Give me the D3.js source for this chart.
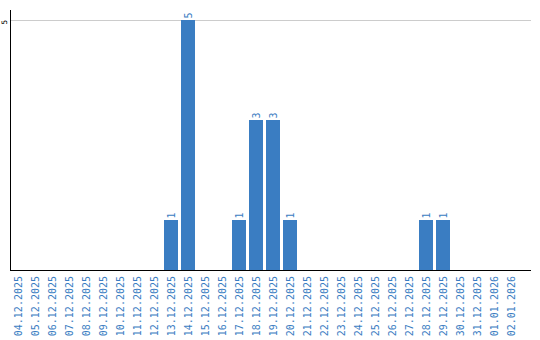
<!DOCTYPE html>
<html><head><meta charset="utf-8">
<script src="https://cdn.jsdelivr.net/npm/d3@7"></script>
<style>body{margin:0;background:#fff}svg{display:block}text{font-family:"DejaVu Sans Mono",monospace;font-size:10px}</style>
</head><body><svg id="c" width="540" height="340"></svg>
<script>
const categories = ["04.12.2025","05.12.2025","06.12.2025","07.12.2025","08.12.2025","09.12.2025","10.12.2025","11.12.2025","12.12.2025","13.12.2025","14.12.2025","15.12.2025","16.12.2025","17.12.2025","18.12.2025","19.12.2025","20.12.2025","21.12.2025","22.12.2025","23.12.2025","24.12.2025","25.12.2025","26.12.2025","27.12.2025","28.12.2025","29.12.2025","30.12.2025","31.12.2025","01.01.2026","02.01.2026"];
const values = [0,0,0,0,0,0,0,0,0,1,5,0,0,1,3,3,1,0,0,0,0,0,0,0,1,1,0,0,0,0];
const yTicks = [5];

const svg = d3.select("#c");
const color = "#3a7dc2";
const x = d3.scaleBand().domain(categories).range([11, 521]).paddingInner(3/17).paddingOuter(1.5/17).align(0);
const y = d3.scaleLinear().domain([0, 5]).range([270, 20]);

// gridlines
svg.append("g").selectAll("line").data(yTicks).join("line")
  .attr("x1", 11).attr("x2", 531).attr("y1", d => y(d) + 0.5).attr("y2", d => y(d) + 0.5)
  .attr("stroke", "#cccccc");

// y labels
svg.append("g").selectAll("text").data(yTicks).join("text")
  .attr("transform", d => `translate(4,${y(d)}) rotate(-90)`)
  .attr("text-anchor", "end").attr("dy", "0.35em").attr("fill", "#000")
  .style("font-size", "7.5px")
  .text(d => d);

// bars
const barData = values.map((v,i)=>({c:categories[i],v})).filter(d=>d.v>0);
svg.append("g").selectAll("rect").data(barData).join("rect")
  .attr("x", d => x(d.c)).attr("width", x.bandwidth())
  .attr("y", d => y(d.v)).attr("height", d => y(0) - y(d.v))
  .attr("fill", color);

// value labels
svg.append("g").selectAll("text").data(barData).join("text")
  .attr("transform", d => `translate(${x(d.c) + x.bandwidth()/2},${y(d.v) - 1.5}) rotate(-90)`)
  .attr("text-anchor", "start").attr("dy", "0.35em").attr("fill", color)
  .text(d => d.v);

// axes lines
svg.append("line").attr("x1", 10.5).attr("x2", 10.5).attr("y1", 10).attr("y2", 271).attr("stroke", "#000");
svg.append("line").attr("x1", 10).attr("x2", 531).attr("y1", 270.5).attr("y2", 270.5).attr("stroke", "#000").attr("stroke-width", 1.2);

// x labels
const xAxis = d3.axisBottom(x).tickSize(0).tickPadding(0);
const gx = svg.append("g").attr("transform", "translate(0,270)").call(xAxis);
gx.select(".domain").remove();
gx.attr("font-family", null).attr("font-size", null);
gx.selectAll("text")
  .attr("fill", color)
  .attr("text-anchor", "end")
  .attr("transform", "translate(0,6) rotate(-90)")
  .attr("x", 0).attr("y", 0).attr("dy", "0.35em");
</script></body></html>
